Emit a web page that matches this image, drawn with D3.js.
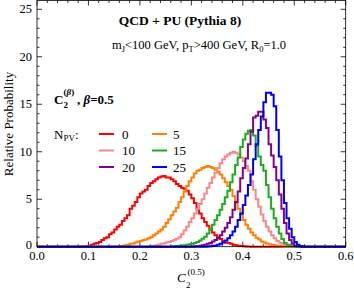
<!DOCTYPE html>
<html>
<head>
<meta charset="utf-8">
<script src="https://cdn.jsdelivr.net/npm/d3@7"></script>
<style>
  body { margin: 0; background: #fff; }
  svg text { font-family: 'Liberation Serif', 'DejaVu Serif', serif; fill: #000; }
</style>
</head>
<body>
<div id="chart"></div>
<script>
// histogram bins are 0.005 wide, each series starts at its own bin edge
const binWidth = 0.005;
const seriesKeys = ['0', '5', '10', '15', '20', '25'];
const binStart = { '0': 0.095, '5': 0.16, '10': 0.22, '15': 0.26, '20': 0.30, '25': 0.33 };

const npv0 = [0.05, 0.1, 0.2, 0.3, 0.4, 0.5, 0.7, 0.9, 1.0, 1.3, 1.5, 1.8, 2.1, 2.3, 2.7, 3.0, 3.3, 4.0, 4.3, 4.7,
  5.2, 5.6, 5.8, 6.0, 6.4, 6.7, 6.9, 7.1, 7.3, 7.4, 7.45, 7.3, 7.3, 7.1, 6.9, 6.6, 6.4, 6.2, 6.1, 5.9,
  5.5, 5.1, 4.6, 4.0, 3.5, 3.0, 2.6, 2.2, 1.8, 1.5, 1.2, 0.95, 0.8, 0.6, 0.45, 0.4, 0.3, 0.2, 0.15, 0.1,
  0.07, 0.05, 0.03, 0.02];
const npv5 = [0.05, 0.1, 0.15, 0.2, 0.3, 0.35, 0.45, 0.55, 0.6, 0.7, 0.75, 0.9, 1.0, 1.2, 1.4, 1.6, 1.8, 2.1, 2.5, 2.9,
  3.3, 3.7, 4.1, 4.7, 5.2, 5.8, 6.4, 6.9, 7.3, 7.7, 8.0, 8.1, 8.3, 8.4, 8.5, 8.4, 8.3, 8.1, 7.9, 7.6,
  7.2, 6.8, 6.4, 6.0, 5.3, 4.6, 4.0, 3.4, 2.8, 2.3, 1.9, 1.5, 1.2, 0.95, 0.75, 0.55, 0.45, 0.35, 0.25, 0.2,
  0.15, 0.1, 0.07, 0.05];
const npv10 = [0.05, 0.1, 0.15, 0.2, 0.3, 0.35, 0.45, 0.5, 0.6, 0.7, 0.85, 1.0, 1.3, 1.7, 2.1, 2.6, 3.0, 3.5, 4.0, 4.5,
  5.0, 5.6, 6.2, 6.7, 7.3, 7.8, 8.3, 8.8, 9.2, 9.5, 9.7, 9.9, 10.0, 9.9, 9.7, 9.4, 9.0, 8.5, 8.0, 6.9,
  6.0, 5.0, 4.2, 3.4, 2.7, 2.1, 1.6, 1.2, 0.9, 0.6, 0.45, 0.3, 0.2, 0.15, 0.1, 0.05];
const npv15 = [0.03, 0.05, 0.07, 0.1, 0.12, 0.15, 0.2, 0.25, 0.3, 0.4, 0.5, 0.65, 0.85, 1.05, 1.4, 1.8, 2.3, 2.8, 3.3, 3.9,
  4.5, 5.2, 5.9, 6.8, 7.6, 8.6, 9.4, 10.5, 11.3, 11.9, 12.2, 12.3, 11.7, 10.6, 9.5, 8.6, 8.0, 6.5, 5.2, 4.0,
  3.0, 2.1, 1.4, 0.8, 0.4, 0.2, 0.1, 0.05];
const npv20 = [0.03, 0.05, 0.07, 0.1, 0.15, 0.2, 0.3, 0.4, 0.55, 0.7, 0.95, 1.2, 1.6, 2.0, 2.5, 3.1, 3.9, 4.7, 5.8, 7.2,
  8.3, 9.3, 10.8, 12.1, 13.6, 13.8, 14.2, 14.2, 13.4, 12.5, 10.8, 9.6, 8.4, 7.0, 5.5, 4.0, 2.5, 1.4, 0.7, 0.3,
  0.1, 0.05];
const npv25 = [0.03, 0.05, 0.08, 0.12, 0.2, 0.3, 0.45, 0.65, 0.9, 1.2, 1.6, 2.1, 2.8, 3.5, 4.4, 5.4, 6.5, 7.6, 9.2, 10.8,
  12.3, 13.7, 15.2, 16.2, 16.2, 16.0, 14.8, 12.3, 9.5, 7.0, 4.6, 3.0, 1.9, 1.0, 0.5, 0.2, 0.08, 0.03];

const seriesValues = { '0': npv0, '5': npv5, '10': npv10, '15': npv15, '20': npv20, '25': npv25 };
const seriesColors = { '0': '#ff0000', '5': '#ff8000', '10': '#ff8686', '15': '#1aae1a', '20': '#880088', '25': '#0000ff' };

const xTicks = [0.0, 0.1, 0.2, 0.3, 0.4, 0.5, 0.6];
const yTicks = [0, 5, 10, 15, 20, 25];

const width = 354, height = 291;
const svg = d3.select('#chart').append('svg')
  .attr('width', width)
  .attr('height', height);

const x = d3.scaleLinear().domain([0, 0.6]).range([37, 345.7]);
const y = d3.scaleLinear().domain([0, 25]).range([246.7, 9.3]);
const plotTop = 0.5;

// tick marks on all four sides, pointing inwards
const minorX = d3.range(0, 0.6001, 0.02).filter(v => Math.abs(v * 10 - Math.round(v * 10)) > 1e-6);
const minorY = d3.range(0, 26, 1).filter(v => v % 5 !== 0);
const ticks = svg.append('g').attr('stroke', '#000').attr('stroke-width', 0.8);
xTicks.forEach(v => {
  ticks.append('line').attr('x1', x(v)).attr('x2', x(v)).attr('y1', y(0)).attr('y2', y(0) - 5);
  ticks.append('line').attr('x1', x(v)).attr('x2', x(v)).attr('y1', plotTop).attr('y2', plotTop + 5);
});
minorX.forEach(v => {
  ticks.append('line').attr('x1', x(v)).attr('x2', x(v)).attr('y1', y(0)).attr('y2', y(0) - 2.5);
  ticks.append('line').attr('x1', x(v)).attr('x2', x(v)).attr('y1', plotTop).attr('y2', plotTop + 2.5);
});
yTicks.forEach(v => {
  ticks.append('line').attr('x1', x(0)).attr('x2', x(0) + 5).attr('y1', y(v)).attr('y2', y(v));
  ticks.append('line').attr('x1', x(0.6)).attr('x2', x(0.6) - 5).attr('y1', y(v)).attr('y2', y(v));
});
minorY.forEach(v => {
  ticks.append('line').attr('x1', x(0)).attr('x2', x(0) + 2.5).attr('y1', y(v)).attr('y2', y(v));
  ticks.append('line').attr('x1', x(0.6)).attr('x2', x(0.6) - 2.5).attr('y1', y(v)).attr('y2', y(v));
});

// histograms, zero padded over the whole axis
const line = d3.line()
  .x(d => x(d[0]))
  .y(d => y(d[1]))
  .curve(d3.curveStepAfter);

seriesKeys.forEach(key => {
  const vals = seriesValues[key];
  const start = binStart[key];
  const n = Math.round(0.6 / binWidth);
  const pts = [];
  for (let i = 0; i < n; i++) {
    const edge = i * binWidth;
    const j = Math.round((edge - start) / binWidth);
    const v = (j >= 0 && j < vals.length) ? vals[j] : 0;
    pts.push([edge, v]);
  }
  pts.push([0.6, 0]);
  svg.append('path')
    .attr('d', line(pts))
    .attr('fill', 'none')
    .attr('stroke', seriesColors[key])
    .attr('stroke-width', 2)
    .attr('stroke-linejoin', 'miter');
});

// frame
svg.append('rect')
  .attr('x', x(0)).attr('y', plotTop)
  .attr('width', x(0.6) - x(0)).attr('height', y(0) - plotTop)
  .attr('fill', 'none')
  .attr('stroke', '#000')
  .attr('stroke-width', 0.8);

// tick labels
svg.append('g').selectAll('text')
  .data(xTicks).enter().append('text')
  .attr('x', d => x(d))
  .attr('y', 259.5)
  .attr('text-anchor', 'middle')
  .attr('font-size', 12.5)
  .text(d => d.toFixed(1));

svg.append('g').selectAll('text')
  .data(yTicks).enter().append('text')
  .attr('x', 32)
  .attr('y', d => y(d) + (d === 0 ? 2.5 : 3.8))
  .attr('text-anchor', 'end')
  .attr('font-size', 12.5)
  .text(d => d);

// axis titles
svg.append('text')
  .attr('transform', 'translate(13,124) rotate(-90)')
  .attr('text-anchor', 'middle')
  .attr('font-size', 13)
  .text('Relative Probability');

const xl = svg.append('g');
xl.append('text').attr('x', 177).attr('y', 282).attr('font-size', 13).attr('font-style', 'italic').text('C');
xl.append('text').attr('x', 186).attr('y', 288).attr('font-size', 9).text('2');
xl.append('text').attr('x', 187.5).attr('y', 275).attr('font-size', 9).text('(0.5)');

// annotations
svg.append('text')
  .attr('x', 180).attr('y', 25)
  .attr('text-anchor', 'middle')
  .attr('font-size', 13.5)
  .attr('font-weight', 'bold')
  .text('QCD + PU (Pythia 8)');

const sub = svg.append('text').attr('x', 112).attr('y', 49).attr('font-size', 12.5);
sub.append('tspan').text('m');
sub.append('tspan').attr('font-size', 8.5).attr('dy', 2.5).text('J');
sub.append('tspan').attr('dy', -2.5).text('<100 GeV, p');
sub.append('tspan').attr('font-size', 8.5).attr('dy', 2.5).text('T');
sub.append('tspan').attr('dy', -2.5).text('>400 GeV, R');
sub.append('tspan').attr('font-size', 8.5).attr('dy', 2.5).text('0');
sub.append('tspan').attr('dy', -2.5).text('=1.0');

const cb = svg.append('g').attr('font-weight', 'bold');
cb.append('text').attr('x', 54).attr('y', 104).attr('font-size', 13).text('C');
cb.append('text').attr('x', 63.5).attr('y', 108).attr('font-size', 9).text('2');
const cbs = cb.append('text').attr('x', 63.5).attr('y', 95).attr('font-size', 9);
cbs.append('tspan').text('(');
cbs.append('tspan').attr('font-style', 'italic').text('β');
cbs.append('tspan').text(')');
const cbt = cb.append('text').attr('x', 77).attr('y', 104).attr('font-size', 13);
cbt.append('tspan').text(', ');
cbt.append('tspan').attr('font-style', 'italic').text('β');
cbt.append('tspan').text('=0.5');

// legend
const legendRows = [134, 150.5, 167];
const legendCols = [{ lx: 99, tx: 122 }, { lx: 152, tx: 173 }];
const lg = svg.append('g');
const npvTitle = lg.append('text').attr('x', 54).attr('y', 138.5).attr('font-size', 13);
npvTitle.append('tspan').text('N');
npvTitle.append('tspan').attr('font-size', 9).attr('dy', 2.5).text('PV');
npvTitle.append('tspan').attr('dy', -2.5).text(':');

seriesKeys.forEach((key, i) => {
  const col = legendCols[i % 2];
  const row = legendRows[Math.floor(i / 2)];
  lg.append('line')
    .attr('x1', col.lx).attr('x2', col.lx + 15)
    .attr('y1', row).attr('y2', row)
    .attr('stroke', seriesColors[key])
    .attr('stroke-width', 2);
  lg.append('text')
    .attr('x', col.tx).attr('y', row + 4.5)
    .attr('font-size', 13)
    .text(key);
});
</script>
</body>
</html>
